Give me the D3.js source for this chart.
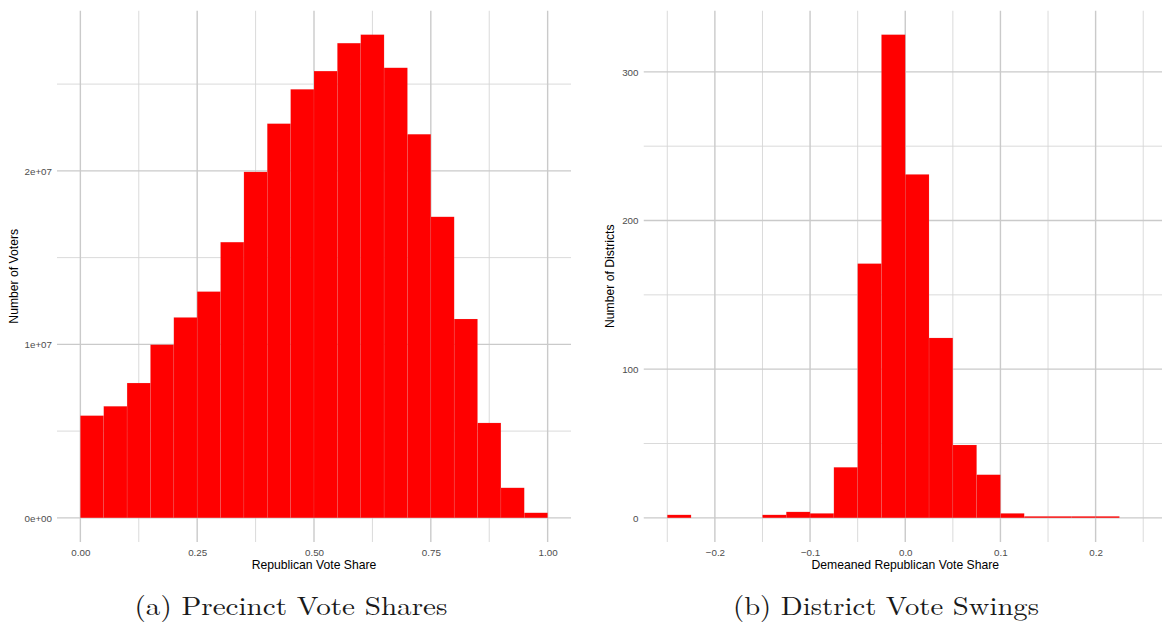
<!DOCTYPE html>
<html>
<head>
<meta charset="utf-8">
<script src="https://cdn.jsdelivr.net/npm/d3@7"></script>
<style>
  html, body { margin: 0; padding: 0; background: #fff; }
  svg { display: block; }
</style>
</head>
<body>
<svg id="chart"></svg>
<script>
// precinct histogram: bin starts (width 0.05) and voter counts
const shareBinStart = [0.00, 0.05, 0.10, 0.15, 0.20, 0.25, 0.30, 0.35, 0.40, 0.45,
                       0.50, 0.55, 0.60, 0.65, 0.70, 0.75, 0.80, 0.85, 0.90, 0.95];
const voterCounts = [5.89e6, 6.43e6, 7.77e6, 9.98e6, 11.55e6, 13.04e6, 15.89e6, 19.94e6, 22.72e6, 24.70e6,
                     25.75e6, 27.36e6, 27.85e6, 25.94e6, 22.11e6, 17.35e6, 11.46e6, 5.47e6, 1.73e6, 0.29e6];
const shareBinWidth = 0.05;
const shareMajor = [0, 0.25, 0.5, 0.75, 1];
const shareMinor = [0.125, 0.375, 0.625, 0.875];
const voterMajor = [0, 1e7, 2e7];
const voterMinor = [5e6, 1.5e7, 2.5e7];
const voterTickLabels = ["0e+00", "1e+07", "2e+07"];

// district swing histogram: bin starts (width 0.025) and district counts
const swingBinStart = [-0.25, -0.225, -0.2, -0.175, -0.15, -0.125, -0.1, -0.075, -0.05, -0.025,
                       0, 0.025, 0.05, 0.075, 0.1, 0.125, 0.15, 0.175, 0.2];
const districtCounts = [2, 0, 0, 0, 2, 4, 3, 34, 171, 325,
                        231, 121, 49, 29, 3, 1, 1, 1, 1];
const swingBinWidth = 0.025;
const swingMajor = [-0.2, -0.1, 0, 0.1, 0.2];
const swingMinor = [-0.25, -0.15, -0.05, 0.05, 0.15, 0.25];
const districtMajor = [0, 100, 200, 300];
const districtMinor = [50, 150, 250];

const width = 1162, height = 622;
const svg = d3.select("#chart").attr("width", width).attr("height", height);
svg.append("rect").attr("width", width).attr("height", height).attr("fill", "#fff");

const panelTop = 10.5, panelBottom = 542;

const drawHist = (cfg) => {
  const g = svg.append("g");

  const xScale = d3.scaleLinear().domain(cfg.xDomain).range([cfg.left, cfg.right]);
  const maxY = d3.max(cfg.counts);
  const yScale = d3.scaleLinear()
    .domain([-0.05 * maxY, 1.05 * maxY]) // ggplot style 5% expansion
    .range([panelBottom, panelTop]);

  const clipId = "clip" + cfg.id;
  svg.append("clipPath").attr("id", clipId)
    .append("rect")
    .attr("x", cfg.left).attr("y", panelTop)
    .attr("width", cfg.right - cfg.left).attr("height", panelBottom - panelTop);

  const grid = g.append("g").attr("clip-path", `url(#${clipId})`);

  // minor grid first, then major
  grid.selectAll(".vminor").data(cfg.xMinor).enter().append("line")
    .attr("x1", d => xScale(d)).attr("x2", d => xScale(d))
    .attr("y1", panelTop).attr("y2", panelBottom)
    .attr("stroke", "#d6d6d6").attr("stroke-width", 0.9);
  grid.selectAll(".hminor").data(cfg.yMinor).enter().append("line")
    .attr("y1", d => yScale(d)).attr("y2", d => yScale(d))
    .attr("x1", cfg.left).attr("x2", cfg.right)
    .attr("stroke", "#d6d6d6").attr("stroke-width", 0.9);
  grid.selectAll(".vmajor").data(cfg.xMajor).enter().append("line")
    .attr("x1", d => xScale(d)).attr("x2", d => xScale(d))
    .attr("y1", panelTop).attr("y2", panelBottom)
    .attr("stroke", "#cacaca").attr("stroke-width", 1.4);
  grid.selectAll(".hmajor").data(cfg.yMajor).enter().append("line")
    .attr("y1", d => yScale(d)).attr("y2", d => yScale(d))
    .attr("x1", cfg.left).attr("x2", cfg.right)
    .attr("stroke", "#cacaca").attr("stroke-width", 1.4);

  // bars
  const bins = cfg.binStart.map((b, i) => ({ x0: b, x1: b + cfg.binWidth, n: cfg.counts[i] }))
    .filter(d => d.n > 0);
  g.append("g").attr("clip-path", `url(#${clipId})`)
    .selectAll("rect").data(bins).enter().append("rect")
    .attr("x", d => xScale(d.x0))
    .attr("width", d => xScale(d.x1) - xScale(d.x0))
    .attr("y", d => yScale(d.n))
    .attr("height", d => yScale(0) - yScale(d.n))
    .attr("fill", "#ff0000")
    .attr("stroke", "rgba(200,200,200,0.22)")
    .attr("stroke-width", 0.5);

  // axes: labels only, grid drawn above
  const xAxis = d3.axisBottom(xScale).tickValues(cfg.xMajor).tickSize(0).tickPadding(0)
    .tickFormat(cfg.xFormat);
  const xg = g.append("g").attr("transform", `translate(0,${panelBottom + 14})`).call(xAxis);
  xg.select(".domain").remove();
  xg.selectAll("text")
    .attr("font-family", "Liberation Sans, Arial, sans-serif")
    .attr("font-size", 9.8).attr("fill", "#4d4d4d").attr("dy", "0");

  const yAxis = d3.axisLeft(yScale).tickValues(cfg.yMajor).tickSize(0).tickPadding(0)
    .tickFormat(cfg.yFormat);
  const yg = g.append("g").attr("transform", `translate(${cfg.left - 5},0)`).call(yAxis);
  yg.select(".domain").remove();
  yg.selectAll("text")
    .attr("font-family", "Liberation Sans, Arial, sans-serif")
    .attr("font-size", 9.8).attr("fill", "#4d4d4d").attr("dy", "0.35em");

  g.append("text")
    .attr("x", (cfg.left + cfg.right) / 2).attr("y", 569)
    .attr("text-anchor", "middle")
    .attr("font-family", "Liberation Sans, Arial, sans-serif")
    .attr("font-size", 12.2).attr("fill", "#000")
    .text(cfg.xTitle);

  g.append("text")
    .attr("transform", `translate(${cfg.yTitleX},${(panelTop + panelBottom) / 2}) rotate(-90)`)
    .attr("text-anchor", "middle")
    .attr("font-family", "Liberation Sans, Arial, sans-serif")
    .attr("font-size", 12.2).attr("fill", "#000")
    .text(cfg.yTitle);

  g.append("text")
    .attr("x", cfg.captionX).attr("y", 615)
    .attr("text-anchor", "middle")
    .attr("font-family", "Latin Modern Roman, CMU Serif, Liberation Serif, DejaVu Serif, serif")
    .attr("font-size", 26)
    .attr("textLength", cfg.captionWidth)
    .attr("lengthAdjust", "spacingAndGlyphs")
    .attr("fill", "#1a1a1a")
    .text(cfg.caption);
};

drawHist({
  id: "a",
  left: 57, right: 571,
  xDomain: [-0.05, 1.05],
  binStart: shareBinStart, binWidth: shareBinWidth, counts: voterCounts,
  xMajor: shareMajor, xMinor: shareMinor,
  yMajor: voterMajor, yMinor: voterMinor,
  xFormat: d3.format(".2f"),
  yFormat: (d, i) => voterTickLabels[i],
  xTitle: "Republican Vote Share",
  yTitle: "Number of Voters",
  yTitleX: 18,
  caption: "(a) Precinct Vote Shares",
  captionX: 291, captionWidth: 313
});

drawHist({
  id: "b",
  left: 643.5, right: 1167,
  xDomain: [-0.275, 0.275],
  binStart: swingBinStart, binWidth: swingBinWidth, counts: districtCounts,
  xMajor: swingMajor, xMinor: swingMinor,
  yMajor: districtMajor, yMinor: districtMinor,
  xFormat: d3.format(".1f"),
  yFormat: d3.format("d"),
  xTitle: "Demeaned Republican Vote Share",
  yTitle: "Number of Districts",
  yTitleX: 614,
  caption: "(b) District Vote Swings",
  captionX: 886, captionWidth: 306
});
</script>
</body>
</html>
